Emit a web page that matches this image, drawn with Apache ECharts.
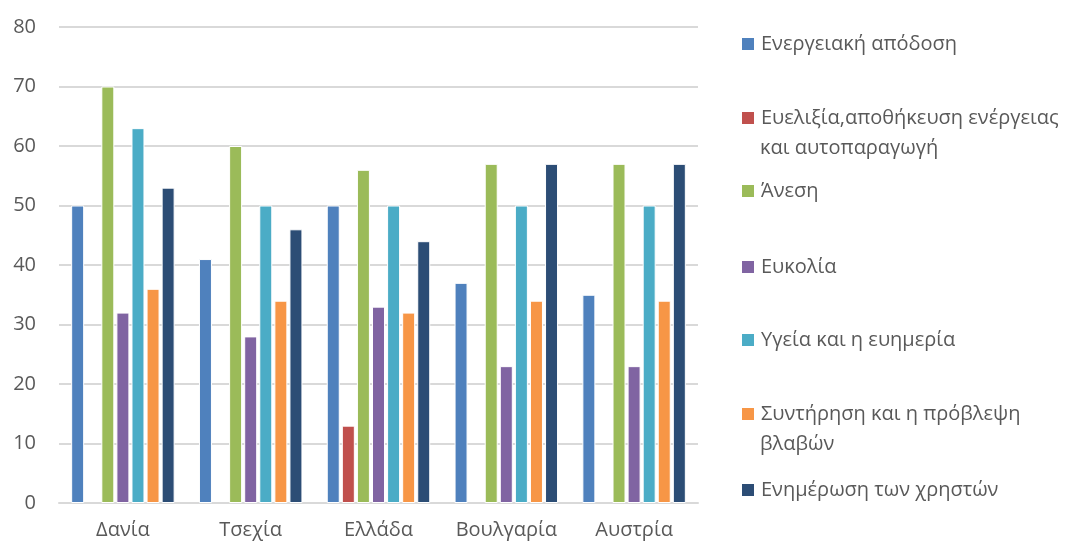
<!DOCTYPE html>
<html>
<head>
<meta charset="utf-8">
<script src="https://cdn.jsdelivr.net/npm/echarts@6/dist/echarts.min.js"></script>
<style>
  html, body { margin: 0; padding: 0; background: #fff; }
  #chart { width: 1078px; height: 549px; }
</style>
</head>
<body>
<div id="chart"></div>
<script>
var countries = ['Δανία', 'Τσεχία', 'Ελλάδα', 'Βουλγαρία', 'Αυστρία'];
var seriesNames = [
  'Ενεργειακή απόδοση',
  'Ευελιξία,αποθήκευση ενέργειας και αυτοπαραγωγή',
  'Άνεση',
  'Ευκολία',
  'Υγεία και η ευημερία',
  'Συντήρηση και η πρόβλεψη βλαβών',
  'Ενημέρωση των χρηστών'
];
// legend shows these on the first line, rest goes on a second line
var legendFirst = [
  'Ενεργειακή απόδοση',
  'Ευελιξία,αποθήκευση ενέργειας',
  'Άνεση',
  'Ευκολία',
  'Υγεία και η ευημερία',
  'Συντήρηση και η πρόβλεψη',
  'Ενημέρωση των χρηστών'
];
var legendSecond = ['', 'και αυτοπαραγωγή', '', '', '', 'βλαβών', ''];

var energy      = [50, 41, 50, 37, 35];
var flexibility = [null, null, 13, null, null];
var comfort     = [70, 60, 56, 57, 57];
var ease        = [32, 28, 33, 23, 23];
var health      = [63, 50, 50, 50, 50];
var maintenance = [36, 34, 32, 34, 34];
var information = [53, 46, 44, 57, 57];
var allValues = [energy, flexibility, comfort, ease, health, maintenance, information];

var colors = ['#4F81BD', '#C0504D', '#9BBB59', '#8064A2', '#4BACC6', '#F79646', '#2C4D75'];
var legendY = [44, 118, 191, 267, 340, 414, 490];

var chart = echarts.init(document.getElementById('chart'));
var textColor = '#595959';
var font = '"Open Sans", "Noto Sans", sans-serif';
var fs = 20;

var series = [], legends = [], graphics = [];
for (var i = 0; i < seriesNames.length; i++) {
  series.push({
    name: seriesNames[i],
    type: 'bar',
    data: allValues[i],
    barWidth: 13,
    barGap: '16%',
    itemStyle: { color: colors[i], borderColor: '#fff', borderWidth: 1 },
    emphasis: { disabled: true }
  });
  (function (idx) {
    legends.push({
      data: [seriesNames[idx]],
      left: 740,
      top: legendY[idx] - 12,
      padding: 0,
      itemWidth: 14,
      itemHeight: 14,
      icon: 'rect',
      selectedMode: false,
      formatter: function () { return legendFirst[idx]; },
      textStyle: { color: textColor, fontSize: fs, fontFamily: font, lineHeight: 24, padding: [0, 0, 0, 1] }
    });
  })(i);
  if (legendSecond[i]) {
    graphics.push({
      type: 'text',
      left: 760,
      top: legendY[i] + 30 - 12,
      style: { text: legendSecond[i], fill: textColor, font: fs + 'px ' + font, lineHeight: 24 }
    });
  }
}

chart.setOption({
  animation: false,
  color: colors,
  grid: { left: 59, right: 380, top: 27, bottom: 46 },
  legend: legends,
  graphic: graphics,
  xAxis: {
    type: 'category',
    data: countries,
    axisTick: { show: false },
    axisLine: { lineStyle: { color: '#d9d9d9', width: 2 } },
    axisLabel: { interval: 0, color: textColor, fontSize: fs, fontFamily: font, margin: 17 }
  },
  yAxis: {
    type: 'value',
    min: 0,
    max: 80,
    interval: 10,
    axisLine: { show: false },
    axisTick: { show: false },
    splitLine: { lineStyle: { color: '#d9d9d9', width: 2 } },
    axisLabel: { color: textColor, fontSize: fs, fontFamily: font, margin: 23 }
  },
  series: series
});
</script>
</body>
</html>
